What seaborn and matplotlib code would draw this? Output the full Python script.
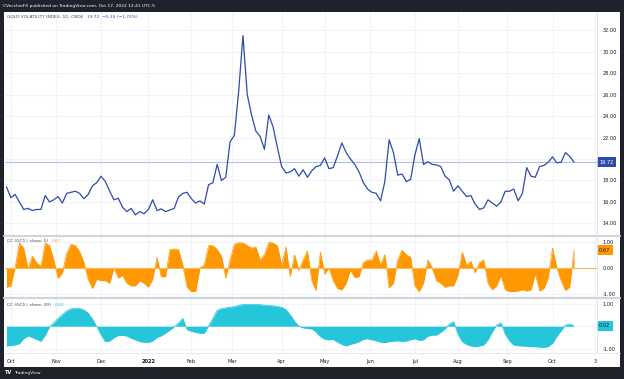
import numpy as np
import matplotlib
matplotlib.use("Agg")
import matplotlib.pyplot as plt
import matplotlib.transforms as mtransforms
from matplotlib.patches import Rectangle
from matplotlib.lines import Line2D
import seaborn as sns

# ---------------- data ----------------
# trading-session number (0 = first session of Oct 2021), one reading every 2 sessions
session = list(range(-2, 263, 2))

gvz = [17.4, 16.4, 16.7, 16.0, 15.3, 15.4, 15.2, 15.3, 15.3, 16.6,
       16.0, 16.2, 16.5, 15.9, 16.8, 16.9, 17.0, 16.8, 16.3, 16.7,
       17.5, 17.8, 18.4, 17.9, 17.0, 16.2, 16.35, 15.5, 15.1, 15.4,
       14.8, 15.1, 14.9, 15.3, 16.2, 15.2, 15.35, 15.1, 15.25, 15.4,
       16.45, 16.8, 16.9, 16.3, 15.9, 16.1, 15.8, 17.6, 17.8, 19.5,
       18.0, 18.3, 21.6, 22.2, 26.3, 31.5, 26.0, 24.1, 22.6, 22.1,
       20.9, 24.1, 23.0, 21.1, 19.3, 18.7, 18.8, 19.1, 18.4, 19.0,
       18.3, 18.9, 19.3, 19.4, 20.1, 19.1, 19.2, 20.3, 21.5, 20.6,
       20.0, 19.5, 18.8, 17.8, 17.2, 16.9, 16.8, 16.1, 17.9, 21.8,
       20.6, 18.5, 18.6, 17.9, 18.1, 20.4, 21.9, 19.5, 19.75, 19.5,
       19.45, 19.3, 18.4, 18.05, 17.0, 17.5, 17.0, 16.5, 16.6, 15.8,
       15.3, 15.45, 16.2, 15.9, 15.6, 16.0, 17.0, 17.0, 17.2, 16.1,
       16.8, 19.2, 18.4, 18.3, 19.3, 19.4, 19.7, 20.2, 19.65, 19.7,
       20.6, 20.25, 19.72]

cc5 = [-0.75, -0.7, 0.0, 0.95, 0.75, -0.05, 0.45, 0.2, 0.05, 0.95,
       0.85, 0.3, -0.41, -0.2, 0.55, 0.9, 0.85, 0.62, 0.2, -0.45,
       -0.8, -0.45, -0.5, -0.5, -0.6, 0.0, -0.4, -0.3, -0.6, -0.7,
       -0.7, -0.5, -0.6, -0.75, -0.45, 0.4, -0.35, -0.35, 0.7, 0.72,
       0.7, 0.1, -0.75, -0.92, -0.92, 0.0, 0.1, 0.85, 0.85, 0.7,
       0.45, -0.4, 0.3, 0.9, 0.96, 0.95, 0.85, 0.76, 0.8, 0.3,
       0.5, 0.97, 0.95, 0.85, 0.1, 0.8, -0.35, 0.5, -0.1, 0.3,
       0.64, -0.5, -0.88, 0.6, -0.25, 0.0, -0.5, -0.8, -0.86, -0.6,
       -0.1, -0.38, -0.35, 0.2, 0.3, 0.3, 0.65, 0.1, 0.5, -0.78,
       -0.6, 0.3, 0.67, 0.5, 0.4, -0.7, -0.92, -0.6, 0.3, 0.0,
       -0.5, -0.6, -0.75, -0.7, -0.7, -0.3, 0.6, 0.1, 0.25, -0.2,
       0.2, 0.3, -0.6, -0.85, -0.7, -0.3, -0.85, -0.92, -0.92, -0.9,
       -0.85, -0.9, -0.85, -0.25, -0.9, -0.8, -0.4, 0.75, 0.0, -0.5,
       -0.88, -0.75, 0.67]

cc20 = [-0.87, -0.85, -0.82, -0.77, -0.55, -0.43, -0.5, -0.58, -0.66, -0.4,
        -0.02, 0.15, 0.35, 0.52, 0.68, 0.77, 0.79, 0.79, 0.72, 0.58,
        0.32, -0.02, -0.38, -0.68, -0.65, -0.5, -0.41, -0.4, -0.43, -0.53,
        -0.6, -0.68, -0.7, -0.72, -0.65, -0.5, -0.42, -0.3, -0.17, -0.03,
        0.15, 0.35, -0.15, -0.22, -0.27, -0.31, -0.31, 0.02, 0.35, 0.7,
        0.78, 0.81, 0.84, 0.87, 0.92, 0.96, 0.96, 0.96, 0.96, 0.95,
        0.93, 0.92, 0.9, 0.87, 0.84, 0.73, 0.5, 0.22, 0.0, -0.07,
        -0.1, -0.12, -0.25, -0.46, -0.57, -0.6, -0.58, -0.7, -0.8, -0.87,
        -0.8, -0.75, -0.68, -0.58, -0.55, -0.6, -0.64, -0.7, -0.72, -0.68,
        -0.66, -0.64, -0.67, -0.65, -0.6, -0.55, -0.62, -0.6, -0.44, -0.39,
        -0.39, -0.27, -0.12, 0.1, 0.2, -0.35, -0.68, -0.8, -0.87, -0.9,
        -0.87, -0.82, -0.6, -0.25, 0.05, 0.15, -0.35, -0.65, -0.83, -0.86,
        -0.87, -0.88, -0.9, -0.9, -0.92, -0.93, -0.9, -0.75, -0.45, -0.2,
        0.05, 0.1, 0.02]

month_sessions = [0, 21, 42, 64, 84, 103, 126, 146, 167, 188, 208, 231, 252, 272]
month_labels = ["Oct", "Nov", "Dec", "2022", "Feb", "Mar", "Apr", "May", "Jun",
                "Jul", "Aug", "Sep", "Oct", "3"]
main_ticks = [14, 16, 18, 20, 22, 24, 26, 28, 30, 32]
cc_ticks = [-1, 0, 1]

last_gvz, last_cc5, last_cc20 = 19.72, 0.67, 0.02
header = "CVecchioFX published on TradingView.com, Oct 17, 2022 12:41 UTC-5"
title_main = "GOLD VOLATILITY INDEX, 1D, CBOE"
title_main_vals = "19.72  \u22120.35 (\u22121.74%)"
title_cc5 = "CC (GC1!, close, 5)"
title_cc20 = "CC (GC1!, close, 20)"

assert len(session) == len(gvz) == len(cc5) == len(cc20)

# ---------------- style ----------------
sns.set_theme(style="white")
plt.rcParams['font.family'] = ['DejaVu Sans']

DARK = "#1f222b"
BLUE = "#2d4bab"
ORANGE = "#ff9800"
CYAN = "#26c6da"
GRID = "#f0f3fa"
SEP = "#d1d4dc"
TXT = "#131722"
FS = 3.6      # axis labels
FS2 = 3.2     # header / legends

W, H = 624, 379
fig = plt.figure(figsize=(W / 100, H / 100), dpi=100, facecolor=DARK)


def fr(x0, y0, x1, y1):
    return [x0 / W, 1 - y1 / H, (x1 - x0) / W, (y1 - y0) / H]


fig.patches.append(Rectangle((4 / W, 1 - 367 / H), 616 / W, 355 / H,
                             transform=fig.transFigure, facecolor="white",
                             edgecolor="none", zorder=-5))

ax1 = fig.add_axes(fr(5, 12, 597, 235))
ax2 = fig.add_axes(fr(5, 237, 597, 297))
ax3 = fig.add_axes(fr(5, 299, 597, 353))

xlim = (-2.7, 272.7)
for ax in (ax1, ax2, ax3):
    ax.set_facecolor("none")
    for s in ax.spines.values():
        s.set_visible(False)
    ax.set_xlim(*xlim)
    ax.set_xticks(month_sessions)
    ax.grid(True, color=GRID, lw=0.8)
    ax.set_axisbelow(True)
    ax.yaxis.tick_right()
    ax.tick_params(axis="y", length=0, pad=4.3, labelsize=FS, labelcolor=TXT)
    ax.tick_params(axis="x", length=0)


def fmt(t, hidden):
    return "" if t == hidden else f"{t:.2f}"


# main panel
ax1.axhline(last_gvz, color="#b3c0ea", lw=0.8, zorder=1)
sns.lineplot(x=session, y=gvz, ax=ax1, color=BLUE, lw=0.9, zorder=3)
ax1.set_ylim(12.92, 33.7)
ax1.set_yticks(main_ticks)
ax1.set_yticklabels([fmt(t, 20) for t in main_ticks])
ax1.set_xticklabels([])

# CC 5 panel
ax2.fill_between(session, cc5, 0, color=ORANGE, lw=0, zorder=2)
sns.lineplot(x=session, y=cc5, ax=ax2, color=ORANGE, lw=0.5, zorder=3)
ax2.axhline(0, color="#ffb74d", lw=0.8, zorder=4)
ax2.set_ylim(-1.13, 1.18)
ax2.set_yticks(cc_ticks)
ax2.set_yticklabels([fmt(t, None) for t in cc_ticks])
ax2.set_xticklabels([])

# CC 20 panel
ax3.fill_between(session, cc20, 0, color=CYAN, lw=0, zorder=2)
sns.lineplot(x=session, y=cc20, ax=ax3, color=CYAN, lw=0.5, zorder=3)
ax3.set_ylim(-1.18, 1.2)
ax3.set_yticks(cc_ticks)
ax3.set_yticklabels([fmt(t, 0) for t in cc_ticks])
ax3.set_xticklabels(month_labels)
ax3.tick_params(axis="x", pad=4.5, labelsize=FS, labelcolor=TXT)
for lab in ax3.get_xticklabels():
    if lab.get_text() == "2022":
        lab.set_fontweight("bold")

for ax in (ax1, ax2, ax3):
    ax.set_xlabel("")
    ax.set_ylabel("")

# last-value boxes on the price scale
for ax, val, fc, tc in ((ax1, last_gvz, BLUE, "white"),
                        (ax2, last_cc5, ORANGE, TXT),
                        (ax3, last_cc20, CYAN, TXT)):
    tr = mtransforms.blended_transform_factory(ax.transAxes, ax.transData)
    ax.text(1.0 + 2.0 / 592, val, f"{val:.2f}", transform=tr, ha="left",
            va="center", fontsize=FS, color=tc, clip_on=False, zorder=10,
            bbox=dict(boxstyle="square,pad=0.45", fc=fc, ec="none"))

# separators and borders
for y in (236, 298):
    fig.add_artist(Line2D([4 / W, 620 / W], [1 - y / H, 1 - y / H],
                          transform=fig.transFigure, color=SEP, lw=1.6))
fig.add_artist(Line2D([597 / W, 597 / W], [1 - 12 / H, 1 - 353 / H],
                      transform=fig.transFigure, color="#e0e3eb", lw=0.6))
fig.add_artist(Line2D([4 / W, 620 / W], [1 - 353 / H, 1 - 353 / H],
                      transform=fig.transFigure, color="#e0e3eb", lw=0.6))


# legends (value text placed right after its title)
def legend(y, title, value, vcolor):
    t = fig.text(7 / W, 1 - y / H, title, fontsize=FS2, color="#434651", va="center")
    fig.text(0, 0, "")
    ann = fig.add_artist(matplotlib.text.Annotation(
        value, xy=(1, 0.5), xycoords=t, xytext=(2.5, 0), textcoords="offset points",
        fontsize=FS2, color=vcolor, va="center", ha="left"))
    return ann


legend(17, title_main, title_main_vals, BLUE)
legend(241, title_cc5, f"{last_cc5:.2f}", ORANGE)
legend(305, title_cc20, f"{last_cc20:.2f}", CYAN)

# header and footer
fig.text(3 / W, 1 - 6 / H, header, fontsize=FS2, color="white", va="center")
fig.text(5 / W, 1 - 373 / H, "TV", fontsize=FS, color="white", va="center",
         fontweight="bold")
fig.text(14 / W, 1 - 373 / H, "TradingView", fontsize=FS2, color="white", va="center")

fig.savefig("out.png", dpi=100, facecolor=DARK)
